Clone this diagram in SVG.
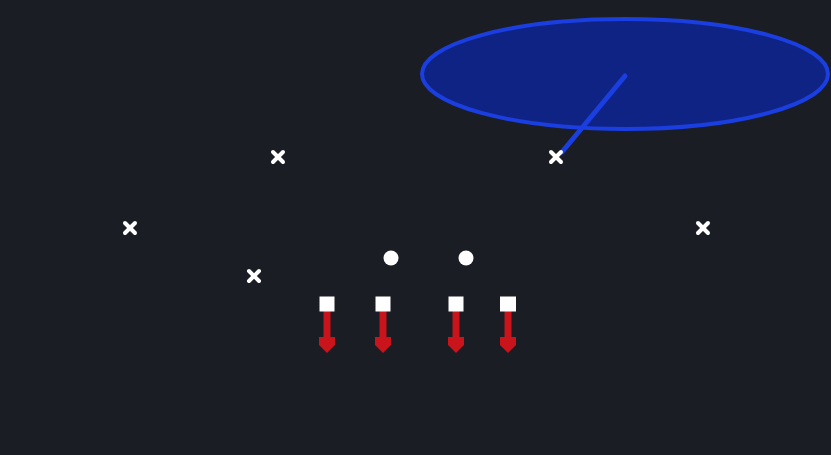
<svg xmlns="http://www.w3.org/2000/svg" width="831" height="455" viewBox="0 0 831 455">
<defs>
<style>
.x{stroke:#ffffff;stroke-width:4;stroke-linecap:round}
.ol{fill:#ffffff}
.rt{stroke:#c8141a;stroke-width:7;fill:none}
.ah{fill:#c8141a}
</style>
<g id="xm"><line class="x" x1="-5" y1="-5" x2="5" y2="5"/><line class="x" x1="-5" y1="5" x2="5" y2="-5"/></g>
</defs>
<rect width="831" height="455" fill="#1a1d24"/>
<g id="zone">
<ellipse cx="625" cy="74" rx="203" ry="55" fill="#0f2385" stroke="#1a3ee0" stroke-width="4"/>
</g>
<g id="connectors">
<line x1="625" y1="76" x2="562" y2="152" stroke="#1a3ee0" stroke-width="5" stroke-linecap="round"/>
<g id="route1"><line class="rt" x1="327" y1="311" x2="327" y2="340"/><polygon class="ah" points="319,337 335,337 335,345 327,353 319,345"/></g>
<g id="route2"><line class="rt" x1="383" y1="311" x2="383" y2="340"/><polygon class="ah" points="375,337 391,337 391,345 383,353 375,345"/></g>
<g id="route3"><line class="rt" x1="456" y1="311" x2="456" y2="340"/><polygon class="ah" points="448,337 464,337 464,345 456,353 448,345"/></g>
<g id="route4"><line class="rt" x1="508" y1="311" x2="508" y2="340"/><polygon class="ah" points="500,337 516,337 516,345 508,353 500,345"/></g>
</g>
<g id="d1"><use href="#xm" x="278" y="157"/></g>
<g id="d2"><use href="#xm" x="556" y="157"/></g>
<g id="d3"><use href="#xm" x="130" y="228"/></g>
<g id="d4"><use href="#xm" x="703" y="228"/></g>
<g id="d5"><use href="#xm" x="254" y="276"/></g>
<g id="o1"><circle class="ol" cx="391" cy="258" r="7.5"/></g>
<g id="o2"><circle class="ol" cx="466" cy="258" r="7.5"/></g>
<g id="s1"><rect class="ol" x="319.5" y="296.5" width="15" height="15"/></g>
<g id="s2"><rect class="ol" x="375.5" y="296.5" width="15" height="15"/></g>
<g id="s3"><rect class="ol" x="448.5" y="296.5" width="15" height="15"/></g>
<g id="s4"><rect class="ol" x="500" y="296.5" width="16" height="15"/></g>
</svg>
